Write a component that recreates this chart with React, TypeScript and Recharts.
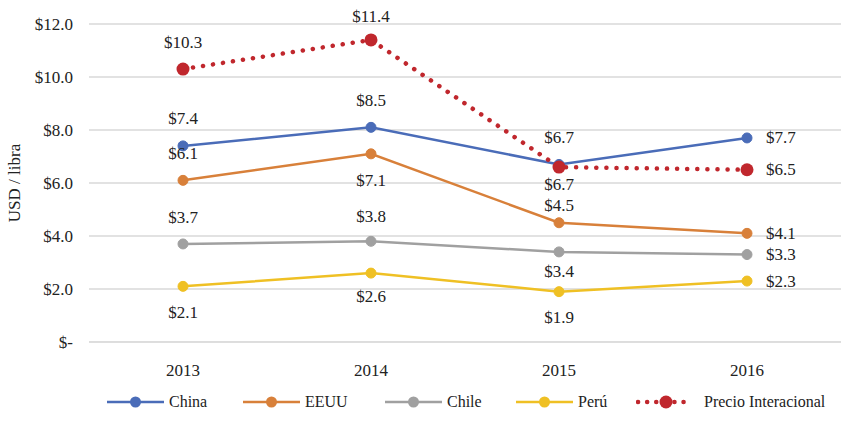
import React from 'react';
import { LineChart, Line, XAxis, YAxis, CartesianGrid, LabelList } from 'recharts';

const years = ['2013', '2014', '2015', '2016'];

const china = [7.4, 8.1, 6.7, 7.7];
const eeuu = [6.1, 7.1, 4.5, 4.1];
const chile = [3.7, 3.8, 3.4, 3.3];
const peru = [2.1, 2.6, 1.9, 2.3];
const precio = [10.3, 11.4, 6.6, 6.5];

// labels as printed in the source (China 2014 reads $8.5)
const chinaLabels = ['$7.4', '$8.5', '$6.7', '$7.7'];
const eeuuLabels = ['$6.1', '$7.1', '$4.5', '$4.1'];
const chileLabels = ['$3.7', '$3.8', '$3.4', '$3.3'];
const peruLabels = ['$2.1', '$2.6', '$1.9', '$2.3'];
const precioLabels = ['$10.3', '$11.4', '$6.7', '$6.5'];

const yTicks = [0, 2, 4, 6, 8, 10, 12];

const data = years.map((year, i) => ({
    year,
    china: china[i],
    eeuu: eeuu[i],
    chile: chile[i],
    peru: peru[i],
    precio: precio[i],
}));

const FONT = '"Liberation Serif", "DejaVu Serif", serif';
const TXT = { fontSize: 17, fontFamily: FONT, fill: '#222' };

// vertical offset of each label from its point; null = to the right of the point
type Off = number | null;

const series = [
    { key: 'china', name: 'China', color: '#4A6CB8', labels: chinaLabels, off: [-27, -27, -27, null] as Off[] },
    { key: 'eeuu', name: 'EEUU', color: '#D8803A', labels: eeuuLabels, off: [-27, 27, -17, null] as Off[] },
    { key: 'chile', name: 'Chile', color: '#A0A0A0', labels: chileLabels, off: [-26, -25, 20, null] as Off[] },
    { key: 'peru', name: 'Perú', color: '#EFC024', labels: peruLabels, off: [26, 23, 26, null] as Off[] },
];

const RED = '#C0272D';
const precioOff: Off[] = [-27, -23, 17, null];

const makeLabel = (labels: string[], off: Off[]) => (props: any) => {
    const { x, y, index } = props;
    const o = off[index];
    const right = o === null;
    return (
        <text
            x={right ? x + 19 : x}
            y={right ? y : y + (o as number)}
            textAnchor={right ? 'start' : 'middle'}
            dominantBaseline="central"
            style={TXT}
        >
            {labels[index]}
        </text>
    );
};

const LegendItem: React.FC<{ name: string; color: string; dotted?: boolean; left: number }> = ({ name, color, dotted, left }) => (
    <div style={{ position: 'absolute', left, top: 391, display: 'flex', alignItems: 'center', height: 22 }}>
        <svg width={57} height={22}>
            {dotted ? (
                <line x1={2} y1={11} x2={55} y2={11} stroke={color} strokeWidth={4.5} strokeDasharray="0.1 9" strokeLinecap="round" />
            ) : (
                <line x1={0} y1={11} x2={57} y2={11} stroke={color} strokeWidth={2.5} />
            )}
            <circle cx={dotted ? 30 : 28.5} cy={11} r={dotted ? 6.5 : 5.5} fill={color} />
        </svg>
        <span style={{ marginLeft: dotted ? 11 : 5, fontFamily: FONT, fontSize: 16, color: '#222' }}>{name}</span>
    </div>
);

export default function App() {
    return (
        <div style={{ position: 'absolute', left: 0, top: 0, width: 850, height: 421, background: '#fff', fontFamily: FONT }}>
            <LineChart width={850} height={380} data={data} margin={{ top: 24, right: 9, left: 0, bottom: 0 }} style={{ fontFamily: FONT }}>
                <CartesianGrid vertical={false} stroke="#D9D9D9" strokeWidth={1.3} />
                <XAxis
                    dataKey="year"
                    axisLine={{ stroke: '#D9D9D9' }}
                    tickLine={false}
                    padding={{ left: 94, right: 94 }}
                    tick={TXT}
                    tickMargin={16}
                    height={38}
                />
                <YAxis
                    width={89}
                    domain={[0, 12]}
                    ticks={yTicks}
                    axisLine={false}
                    tickLine={false}
                    tickMargin={10}
                    tick={TXT}
                    tickFormatter={(v: number) => (v === 0 ? '$-' : `$${v.toFixed(1)}`)}
                    label={{
                        value: 'USD / libra',
                        angle: -90,
                        position: 'insideLeft',
                        offset: 14,
                        style: { textAnchor: 'middle', ...TXT },
                    }}
                />
                {series.map((s) => (
                    <Line
                        key={s.key}
                        dataKey={s.key}
                        name={s.name}
                        stroke={s.color}
                        strokeWidth={2.5}
                        dot={{ r: 5, fill: s.color, stroke: s.color, strokeWidth: 1 }}
                        isAnimationActive={false}
                    >
                        <LabelList dataKey={s.key} content={makeLabel(s.labels, s.off)} />
                    </Line>
                ))}
                <Line
                    dataKey="precio"
                    name="Precio Interacional"
                    stroke={RED}
                    strokeWidth={4.5}
                    strokeDasharray="0.1 10"
                    strokeLinecap="round"
                    dot={(p: any) => <circle key={`pd-${p.index}`} cx={p.cx} cy={p.cy} r={6.5} fill={RED} />}
                    isAnimationActive={false}
                >
                    <LabelList dataKey="precio" content={makeLabel(precioLabels, precioOff)} />
                </Line>
            </LineChart>
            <LegendItem name="China" color="#4A6CB8" left={107} />
            <LegendItem name="EEUU" color="#D8803A" left={243} />
            <LegendItem name="Chile" color="#A0A0A0" left={385} />
            <LegendItem name="Perú" color="#EFC024" left={516} />
            <LegendItem name="Precio Interacional" color={RED} dotted left={636} />
        </div>
    );
}
